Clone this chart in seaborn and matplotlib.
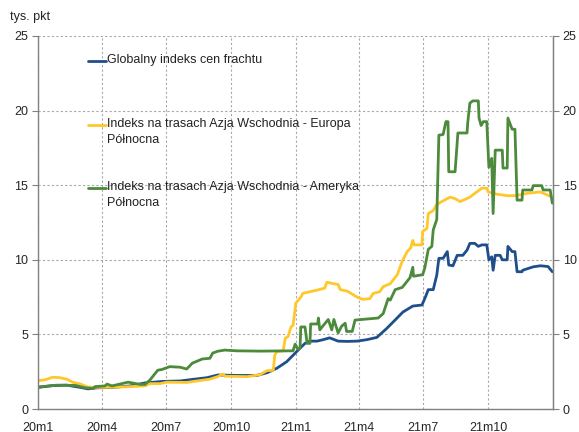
import pandas as pd
import seaborn as sns
import matplotlib
matplotlib.use("Agg")
import matplotlib.pyplot as plt

sns.set_style("white")
plt.rcParams['font.family'] = ['Liberation Sans', 'DejaVu Sans']

# Globalny indeks cen frachtu
global_dates = ["2020-01-01", "2020-01-22", "2020-02-11", "2020-03-01", "2020-03-12", "2020-03-25",
                "2020-04-16", "2020-05-11", "2020-06-01", "2020-06-26", "2020-07-21", "2020-08-08",
                "2020-08-28", "2020-09-12", "2020-10-09", "2020-11-07", "2020-11-21", "2020-12-05",
                "2020-12-19", "2020-12-28", "2021-01-07", "2021-01-14", "2021-01-21", "2021-01-31",
                "2021-02-09", "2021-02-18", "2021-03-02", "2021-03-15", "2021-03-29", "2021-04-12",
                "2021-04-26", "2021-05-10", "2021-05-22", "2021-06-02", "2021-06-16", "2021-06-29",
                "2021-07-03", "2021-07-08", "2021-07-15", "2021-07-20", "2021-07-23", "2021-07-29",
                "2021-08-04", "2021-08-06", "2021-08-12", "2021-08-18", "2021-08-26", "2021-09-01",
                "2021-09-05", "2021-09-12", "2021-09-17", "2021-09-22", "2021-09-29", "2021-10-02",
                "2021-10-06", "2021-10-08", "2021-10-11", "2021-10-18", "2021-10-21", "2021-10-28",
                "2021-10-29", "2021-11-04", "2021-11-08", "2021-11-11", "2021-11-18", "2021-11-19",
                "2021-12-04", "2021-12-14", "2021-12-25", "2021-12-31"]
global_vals = [1.45, 1.57, 1.6, 1.45, 1.35, 1.42,
               1.45, 1.55, 1.75, 1.85, 1.88, 1.99,
               2.1, 2.28, 2.25, 2.25, 2.43, 2.73,
               3.17, 3.6, 4.08, 4.4, 4.55, 4.55,
               4.65, 4.77, 4.55, 4.53, 4.55, 4.65,
               4.8, 5.4, 5.97, 6.5, 6.9, 6.97,
               7.4, 8.0, 8.0, 8.97, 10.1, 10.1,
               10.55, 9.65, 9.6, 10.3, 10.3, 10.65,
               11.1, 11.1, 10.9, 11.0, 11.0, 10.0,
               10.2, 9.3, 10.3, 10.3, 10.0, 10.0,
               10.9, 10.55, 10.55, 9.2, 9.2, 9.3,
               9.53, 9.6, 9.55, 9.2]

# Indeks na trasach Azja Wschodnia - Europa Północna
europa_dates = ["2020-01-01", "2020-01-11", "2020-01-22", "2020-02-01", "2020-02-11", "2020-02-20",
                "2020-03-01", "2020-03-12", "2020-04-01", "2020-04-22", "2020-05-11", "2020-06-01",
                "2020-06-08", "2020-06-22", "2020-07-02", "2020-07-30", "2020-09-01", "2020-09-12",
                "2020-09-20", "2020-09-22", "2020-10-24", "2020-11-11", "2020-11-21", "2020-11-30",
                "2020-12-02", "2020-12-05", "2020-12-14", "2020-12-17", "2020-12-21", "2020-12-25",
                "2020-12-28", "2021-01-01", "2021-01-08", "2021-01-11", "2021-01-31", "2021-02-11",
                "2021-02-14", "2021-02-23", "2021-03-02", "2021-03-05", "2021-03-15", "2021-03-29",
                "2021-04-06", "2021-04-16", "2021-04-21", "2021-04-30", "2021-05-05", "2021-05-15",
                "2021-05-25", "2021-06-01", "2021-06-08", "2021-06-13", "2021-06-16", "2021-06-18",
                "2021-06-29", "2021-06-30", "2021-07-06", "2021-07-08", "2021-07-15", "2021-07-20",
                "2021-07-27", "2021-08-08", "2021-08-15", "2021-08-22", "2021-09-05", "2021-09-12",
                "2021-09-22", "2021-09-29", "2021-10-01", "2021-10-13", "2021-10-28", "2021-11-08",
                "2021-11-25", "2021-12-14", "2021-12-31"]
europa_vals = [1.9, 1.96, 2.13, 2.1, 2.0, 1.78,
               1.68, 1.47, 1.45, 1.47, 1.5, 1.55,
               1.7, 1.7, 1.8, 1.78, 2.0, 2.17,
               2.35, 2.2, 2.17, 2.3, 2.57, 2.6,
               3.6, 3.85, 3.9, 4.75, 4.85, 5.5,
               5.6, 7.1, 7.5, 7.75, 7.97, 8.1,
               8.5, 8.4, 8.35, 8.0, 7.9, 7.5,
               7.35, 7.4, 7.75, 7.86, 8.2, 8.4,
               9.0, 9.9, 10.55, 10.8, 11.3, 11.0,
               11.0, 11.9, 12.1, 13.1, 13.3, 13.7,
               13.9, 14.2, 14.1, 13.9, 14.2, 14.45,
               14.8, 14.8, 14.55, 14.4, 14.3, 14.3,
               14.45, 14.55, 14.2]

# Indeks na trasach Azja Wschodnia - Ameryka Północna
ameryka_dates = ["2020-01-01", "2020-01-28", "2020-02-23", "2020-03-08", "2020-03-19", "2020-03-22",
                 "2020-04-05", "2020-04-08", "2020-04-15", "2020-05-08", "2020-05-25", "2020-06-01",
                 "2020-06-08", "2020-06-19", "2020-06-25", "2020-07-02", "2020-07-06", "2020-07-21",
                 "2020-07-30", "2020-08-07", "2020-08-21", "2020-09-01", "2020-09-05", "2020-09-12",
                 "2020-09-22", "2020-10-09", "2020-11-11", "2020-12-28", "2020-12-31", "2021-01-04",
                 "2021-01-07", "2021-01-08", "2021-01-14", "2021-01-17", "2021-01-21", "2021-01-22",
                 "2021-02-01", "2021-02-02", "2021-02-04", "2021-02-09", "2021-02-16", "2021-02-21",
                 "2021-02-24", "2021-03-02", "2021-03-07", "2021-03-12", "2021-03-14", "2021-03-22",
                 "2021-03-26", "2021-04-28", "2021-05-05", "2021-05-12", "2021-05-15", "2021-05-22",
                 "2021-06-01", "2021-06-12", "2021-06-16", "2021-06-17", "2021-06-30", "2021-07-03",
                 "2021-07-08", "2021-07-13", "2021-07-15", "2021-07-20", "2021-07-23", "2021-07-29",
                 "2021-08-02", "2021-08-05", "2021-08-06", "2021-08-15", "2021-08-19", "2021-09-01",
                 "2021-09-02", "2021-09-05", "2021-09-09", "2021-09-17", "2021-09-18", "2021-09-21",
                 "2021-09-24", "2021-09-29", "2021-10-02", "2021-10-06", "2021-10-08", "2021-10-11",
                 "2021-10-21", "2021-10-22", "2021-10-28", "2021-10-29", "2021-11-04", "2021-11-08",
                 "2021-11-11", "2021-11-18", "2021-11-19", "2021-12-02", "2021-12-04", "2021-12-16",
                 "2021-12-18", "2021-12-28", "2021-12-31"]
ameryka_vals = [1.47, 1.6, 1.58, 1.42, 1.38, 1.5,
                1.55, 1.67, 1.55, 1.8, 1.65, 1.65,
                1.95, 2.6, 2.65, 2.77, 2.84, 2.8,
                2.68, 3.07, 3.35, 3.4, 3.75, 3.87,
                3.95, 3.9, 3.88, 3.9, 4.35, 4.0,
                4.1, 5.5, 5.5, 4.4, 4.4, 5.7,
                5.7, 6.1, 5.3, 5.6, 6.0, 5.3,
                6.0, 5.1, 5.55, 5.75, 5.2, 5.2,
                5.96, 6.1, 6.4, 7.4, 7.3, 8.0,
                8.15, 8.8, 9.5, 8.9, 9.0, 9.45,
                10.7, 10.9, 12.0, 12.7, 18.35, 18.4,
                19.26, 19.26, 15.9, 15.9, 18.5, 18.5,
                19.2, 20.5, 20.65, 20.65, 19.5, 19.0,
                19.26, 19.26, 16.2, 16.8, 13.1, 17.35,
                17.35, 16.15, 16.15, 19.5, 18.75, 18.75,
                14.0, 14.0, 14.68, 14.68, 14.97, 14.97,
                14.68, 14.68, 13.8]

labels = ["Globalny indeks cen frachtu",
          "Indeks na trasach Azja Wschodnia - Europa\nPółnocna",
          "Indeks na trasach Azja Wschodnia - Ameryka\nPółnocna"]
colors = ["#1F4E8C", "#FFC82A", "#4C8A3C"]

tick_dates = pd.to_datetime(["2020-01-01", "2020-04-01", "2020-07-01", "2020-10-01",
                             "2021-01-01", "2021-04-01", "2021-07-01", "2021-10-01", "2022-01-01"])
tick_labels = ["20m1", "20m4", "20m7", "20m10", "21m1", "21m4", "21m7", "21m10", ""]

fig = plt.figure(figsize=(5.79, 4.32), dpi=100)
ax = fig.add_axes([0.0656, 0.0532, 0.8895, 0.8635])

series = [(global_dates, global_vals), (europa_dates, europa_vals), (ameryka_dates, ameryka_vals)]
for (d, v), c in zip(series, colors):
    sns.lineplot(x=pd.to_datetime(d), y=v, color=c, linewidth=2.0, ax=ax)

ax.set_xlim(pd.Timestamp("2020-01-01"), pd.Timestamp("2022-01-01"))
ax.set_ylim(0, 25)
ax.set_yticks([0, 5, 10, 15, 20, 25])
ax.set_xticks(tick_dates)
ax.set_xticklabels(tick_labels)
ax.set_xlabel("")
ax.set_ylabel("")
ax.grid(True, color="#A8A8A8", linestyle=(0, (2, 2)), linewidth=0.8)
for s in ["left", "bottom", "right"]:
    ax.spines[s].set_color("#808080")
    ax.spines[s].set_linewidth(1.0)
ax.spines["top"].set_visible(False)
ax.tick_params(axis="both", length=4, color="#808080", labelsize=9)
ax.tick_params(axis="x", pad=5)
ax.tick_params(axis="y", pad=3)

ax2 = ax.twinx()
ax2.set_ylim(0, 25)
ax2.set_yticks([0, 5, 10, 15, 20, 25])
ax2.spines["top"].set_visible(False)
ax2.spines["left"].set_visible(False)
ax2.spines["bottom"].set_visible(False)
ax2.spines["right"].set_color("#808080")
ax2.tick_params(axis="y", length=4, color="#808080", labelsize=9, pad=3)

# legend drawn by hand to mimic spacing
leg_y = [0.933, 0.762, 0.592]
for y, lab, c in zip(leg_y, labels, colors):
    ax.plot([0.097, 0.133], [y, y], color=c, linewidth=2.0, transform=ax.transAxes)
    ax.text(0.134, y + 0.019, lab, transform=ax.transAxes, fontsize=9, va="top",
            ha="left", linespacing=1.45, color="#222222")

fig.text(0.017, 0.96, "tys. pkt", fontsize=9, ha="left", va="center")

fig.savefig("out.png", dpi=100)
